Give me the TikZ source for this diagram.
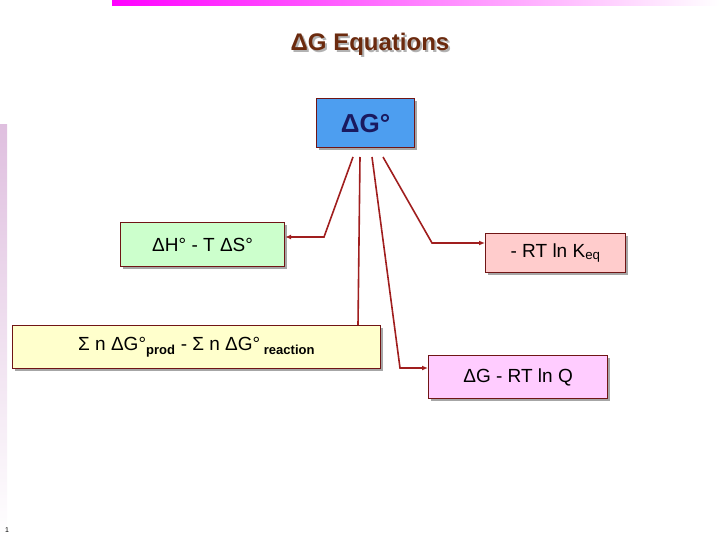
\documentclass[tikz,border=0pt]{standalone}
\usepackage{fontspec}
\setmainfont{Liberation Sans}
\usetikzlibrary{arrows.meta}
\definecolor{brn}{HTML}{6B2A0E}
\definecolor{lnk}{HTML}{A01E1E}
\definecolor{gblue}{HTML}{4D9EF0}
\definecolor{navy}{HTML}{1A1A60}
\definecolor{cgreen}{HTML}{CCFFCC}
\definecolor{cpink}{HTML}{FFCCCC}
\definecolor{cyel}{HTML}{FFFFCC}
\definecolor{cmag}{HTML}{FFCCFF}
\tikzset{
 eqbox/.style={draw=lnk!70!black,line width=1.2pt,inner sep=0pt,anchor=north west},
 eqtext/.style={font=\fontsize{19}{19}\selectfont},
 conn/.style={lnk,line width=1.6pt},
 arr/.style={conn,-{Latex[length=6pt,width=5pt]}}
}
\begin{document}
\begin{tikzpicture}[x=1pt,y=-1pt]
\useasboundingbox (0,0) rectangle (720,540);
\shade[left color=magenta,right color=white] (112,0) rectangle (720,6);
\shade[top color=violet!25,bottom color=white] (0,125) rectangle (7,540);
\node[font=\bfseries\fontsize{24}{24}\selectfont,text=gray!60] at (372,46) {ΔG Equations};
\node[font=\bfseries\fontsize{24}{24}\selectfont,text=brn] (title) at (370,44) {ΔG Equations};
\fill[gray!70] (319,101) rectangle (417,150);
\fill[gray!70] (123,225) rectangle (287,269);
\fill[gray!70] (488,236) rectangle (628,275);
\fill[gray!70] (15,328) rectangle (383,371);
\fill[gray!70] (431,358) rectangle (610,401);
\node[eqbox,fill=gblue,minimum width=98pt,minimum height=49pt] (g) at (316,98) {};
\node[text=navy,font=\bfseries\fontsize{26}{26}\selectfont] at (g.center) {ΔG°};
\node[eqbox,fill=cgreen,minimum width=164pt,minimum height=44pt] (h) at (120,222) {};
\node[eqtext] at (h.center) {ΔH° - T ΔS°};
\node[eqbox,fill=cpink,minimum width=140pt,minimum height=39pt] (k) at (485,233) {};
\node[eqtext] at (k.center) {- RT ln K\textsubscript{eq}};
\node[eqbox,fill=cyel,minimum width=368pt,minimum height=43pt] (s) at (12,325) {};
\node[eqtext] at (s.center) {Σ n ΔG°\textsubscript{\bfseries\fontsize{13}{13}\selectfont prod} - Σ n ΔG°\textsubscript{\bfseries\fontsize{13}{13}\selectfont\ reaction}};
\node[eqbox,fill=cmag,minimum width=179pt,minimum height=43pt] (q) at (428,355) {};
\node[eqtext] at (q.center) {ΔG - RT ln Q};
\coordinate (a1) at (353,157); \coordinate (a2) at (360,157);
\coordinate (a3) at (372,157); \coordinate (a4) at (383,157);
\draw[arr] (a1) -- (324,237) -- (h.east |- 0,237);
\draw[conn] (a2) -- (358,325);
\draw[arr] (a3) -- (400,368) -- (q.west |- 0,368);
\draw[arr] (a4) -- (432,243) -- (k.west |- 0,243);
\node[font=\fontsize{7}{7}\selectfont] (pn) at (7,530) {1};
\end{tikzpicture}
\end{document}
